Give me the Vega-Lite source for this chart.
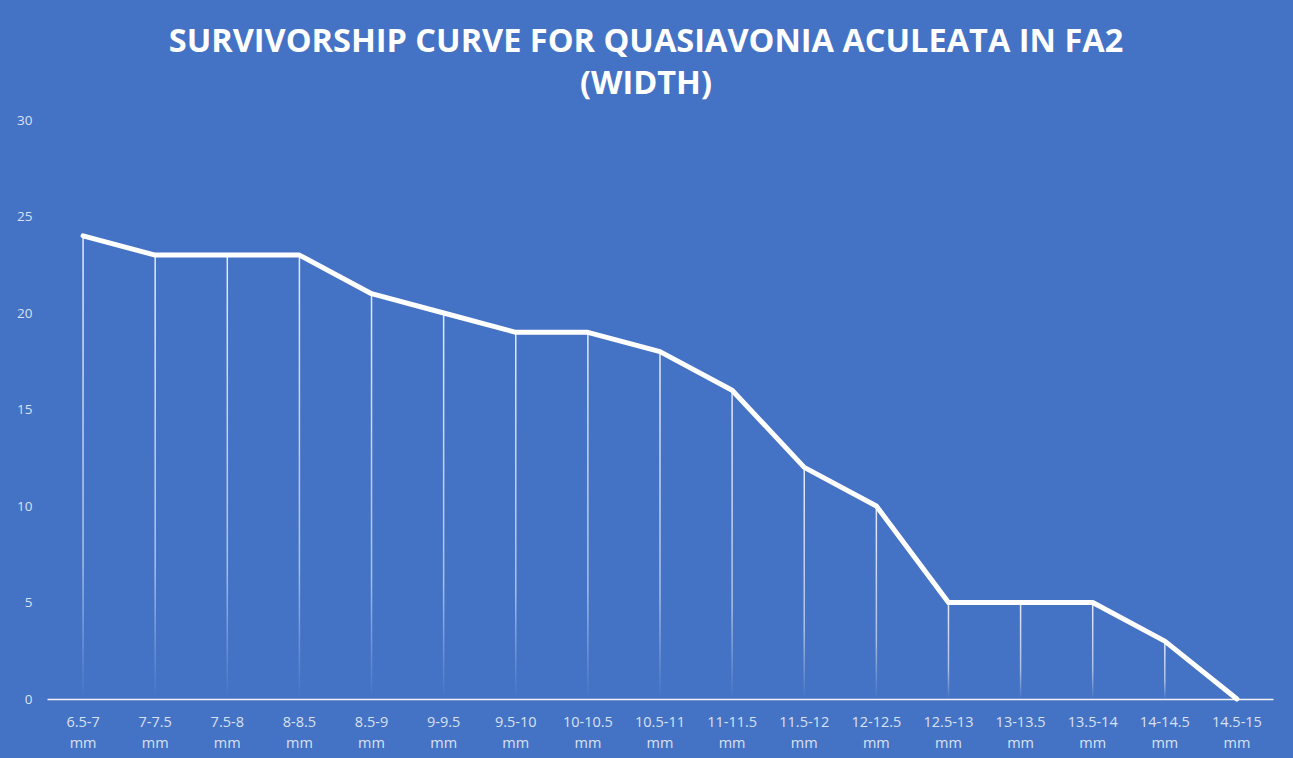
{
  "$schema": "https://vega.github.io/schema/vega-lite/v6.json",
  "autosize": "none",
  "width": 1226,
  "height": 579,
  "padding": {"left": 47, "top": 120, "right": 20, "bottom": 59},
  "background": "#4472C4",
  "title": {
    "text": ["SURVIVORSHIP CURVE FOR QUASIAVONIA ACULEATA IN FA2", "(WIDTH)"],
    "anchor": "middle",
    "dx": -14,
    "offset": 13,
    "font": "Open Sans",
    "fontSize": 32.5,
    "fontWeight": 700,
    "color": "#FFFFFF",
    "lineHeight": 42
  },
  "config": {
    "view": {"stroke": null},
    "axis": {"labelFont": "Open Sans", "labelFontSize": 13.5, "labelColor": "#D9E1F2", "grid": false, "ticks": false, "title": null}
  },
  "data": {
    "values": [
      {"size": "6.5-7 mm", "n": 24},
      {"size": "7-7.5 mm", "n": 23},
      {"size": "7.5-8 mm", "n": 23},
      {"size": "8-8.5 mm", "n": 23},
      {"size": "8.5-9 mm", "n": 21},
      {"size": "9-9.5 mm", "n": 20},
      {"size": "9.5-10 mm", "n": 19},
      {"size": "10-10.5 mm", "n": 19},
      {"size": "10.5-11 mm", "n": 18},
      {"size": "11-11.5 mm", "n": 16},
      {"size": "11.5-12 mm", "n": 12},
      {"size": "12-12.5 mm", "n": 10},
      {"size": "12.5-13 mm", "n": 5},
      {"size": "13-13.5 mm", "n": 5},
      {"size": "13.5-14 mm", "n": 5},
      {"size": "14-14.5 mm", "n": 3},
      {"size": "14.5-15 mm", "n": 0}
    ]
  },
  "encoding": {
    "x": {
      "field": "size", "type": "nominal", "sort": null, "bandPosition": 0.5,
      "scale": {"type": "band", "paddingInner": 0, "paddingOuter": 0},
      "axis": {"labelAngle": 0, "labelExpr": "split(datum.label, ' ')", "labelFontSize": 14.5, "labelLineHeight": 21, "labelPadding": 16, "domainColor": "#F2F2F2", "domainWidth": 1.5}
    },
    "y": {
      "field": "n", "type": "quantitative",
      "scale": {"domain": [0, 30]},
      "axis": {"values": [0, 5, 10, 15, 20, 25, 30], "domain": false, "labelPadding": 15}
    }
  },
  "layer": [
    {
      "mark": {
        "type": "bar",
        "width": 1.5,
        "fill": {
          "gradient": "linear", "x1": 0, "y1": 0, "x2": 0, "y2": 1,
          "stops": [
            {"offset": 0, "color": "rgba(255,255,255,0.85)"},
            {"offset": 0.7, "color": "rgba(255,255,255,0.55)"},
            {"offset": 1, "color": "rgba(255,255,255,0)"}
          ]
        }
      }
    },
    {
      "mark": {"type": "line", "color": "#FFFFFF", "strokeWidth": 5, "strokeCap": "round", "strokeJoin": "round"}
    }
  ]
}
